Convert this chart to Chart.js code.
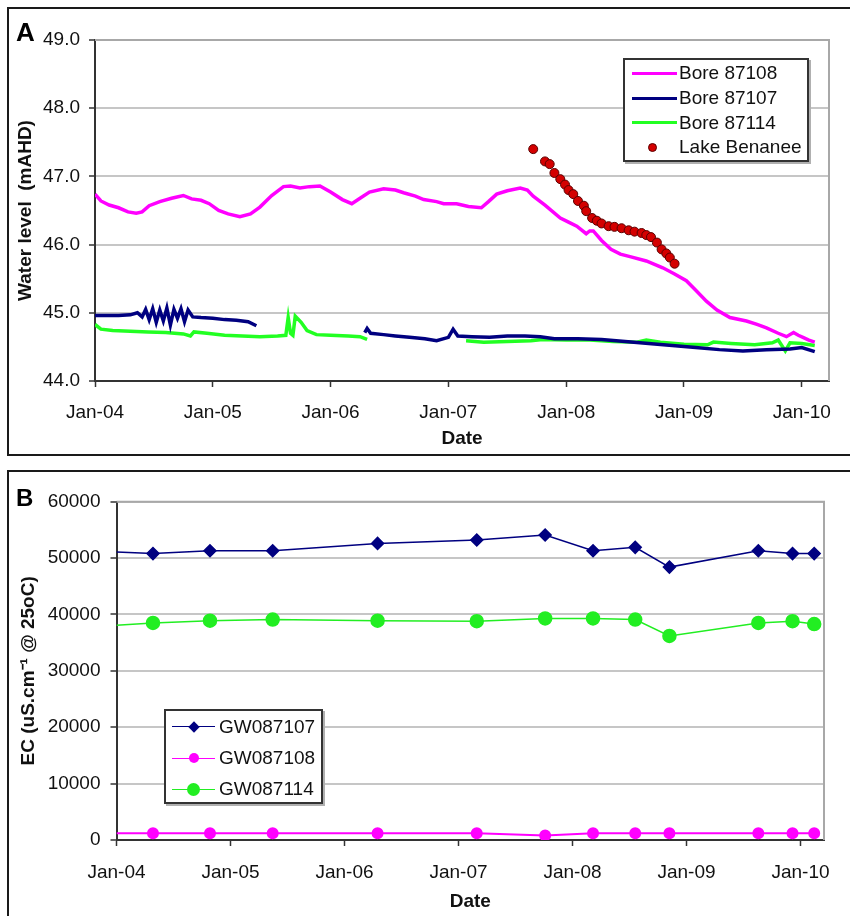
<!DOCTYPE html>
<html><head><meta charset="utf-8">
<script src="https://cdn.jsdelivr.net/npm/chart.js@4.4.1/dist/chart.umd.min.js"></script>
<style>
html,body{margin:0;padding:0;background:#fff;}
body{width:850px;height:916px;position:relative;overflow:hidden;font-family:"Liberation Sans",Arial,sans-serif;}
canvas{position:absolute;left:0;}
#cA{top:0}
#cB{top:460px}
.frame{position:absolute;box-sizing:border-box;border:2.5px solid #1a1a1a;}
.letter{position:absolute;font-weight:bold;color:#000;line-height:1;}
.legend{position:absolute;box-sizing:border-box;border:2px solid #333;background:#fff;box-shadow:2px 2px 0 #b0b0b0;}
.lt{position:absolute;font-size:19px;line-height:24px;color:#111;white-space:nowrap;}
.ls{position:absolute;}
</style></head>
<body>
<canvas id="cA" width="850" height="460"></canvas>
<canvas id="cB" width="850" height="456"></canvas>
<div class="frame" style="left:7px;top:7px;width:900px;height:449px"></div>
<div class="frame" style="left:7px;top:470px;width:900px;height:500px"></div>
<div class="letter" style="left:16px;top:19px;font-size:26px">A</div>
<div class="letter" style="left:16px;top:486px;font-size:24px">B</div>
<div id="legends"></div>
<script>
// ---------- shared axis ticks ----------
const yearTicks = [2004, 2005, 2006, 2007, 2008, 2009, 2010];
const yearTickLabels = ['Jan-04', 'Jan-05', 'Jan-06', 'Jan-07', 'Jan-08', 'Jan-09', 'Jan-10'];

// ---------- Panel A: water levels (decimal years, mAHD) ----------
const seriesNamesA = ['Bore 87108', 'Bore 87107', 'Bore 87114', 'Lake Benanee'];

const bore87108Dates = [2004.00,2004.05,2004.12,2004.20,2004.28,2004.35,2004.40,2004.46,2004.55,2004.65,2004.75,2004.82,2004.90,2004.97,2005.05,2005.13,2005.23,2005.32,2005.40,2005.50,2005.60,2005.66,2005.74,2005.82,2005.91,2006.00,2006.10,2006.18,2006.25,2006.33,2006.45,2006.55,2006.62,2006.72,2006.79,2006.90,2006.96,2007.07,2007.17,2007.28,2007.34,2007.41,2007.50,2007.61,2007.67,2007.72,2007.82,2007.95,2008.02,2008.09,2008.17,2008.20,2008.23,2008.30,2008.38,2008.46,2008.55,2008.68,2008.82,2008.92,2009.02,2009.10,2009.19,2009.28,2009.39,2009.53,2009.62,2009.70,2009.80,2009.87,2009.93,2009.97,2010.01,2010.06,2010.11];
const bore87108Levels = [46.74,46.64,46.58,46.54,46.48,46.46,46.48,46.57,46.63,46.68,46.72,46.67,46.65,46.60,46.50,46.45,46.41,46.45,46.55,46.72,46.85,46.86,46.83,46.85,46.86,46.77,46.66,46.60,46.68,46.77,46.82,46.80,46.76,46.71,46.66,46.63,46.60,46.60,46.56,46.54,46.63,46.74,46.79,46.83,46.80,46.71,46.58,46.39,46.33,46.27,46.16,46.20,46.20,46.06,45.93,45.86,45.82,45.76,45.66,45.57,45.47,45.33,45.17,45.04,44.93,44.88,44.83,44.78,44.70,44.65,44.71,44.67,44.64,44.60,44.57];

const bore87107Dates = [2004.00,2004.10,2004.20,2004.30,2004.36,2004.40,2004.43,2004.46,2004.49,2004.52,2004.55,2004.58,2004.61,2004.64,2004.67,2004.70,2004.73,2004.76,2004.79,2004.83,2004.90,2005.00,2005.10,2005.20,2005.30,2005.37,2005.80,2006.29,2006.31,2006.34,2006.45,2006.55,2006.67,2006.80,2006.90,2007.00,2007.04,2007.08,2007.20,2007.35,2007.50,2007.65,2007.78,2007.90,2008.10,2008.30,2008.50,2008.70,2008.90,2009.10,2009.30,2009.50,2009.70,2009.90,2010.00,2010.11];
const bore87107Levels = [44.96,44.96,44.96,44.97,45.00,44.94,45.05,44.90,45.06,44.86,45.04,44.88,45.07,44.82,45.05,44.92,45.06,44.87,45.04,44.94,44.93,44.92,44.90,44.89,44.87,44.81,null,44.71,44.77,44.70,44.68,44.66,44.64,44.62,44.59,44.64,44.76,44.66,44.65,44.64,44.66,44.66,44.65,44.62,44.62,44.61,44.58,44.55,44.52,44.49,44.46,44.44,44.46,44.47,44.49,44.43];

const bore87114Dates = [2004.00,2004.05,2004.15,2004.30,2004.45,2004.60,2004.75,2004.81,2004.84,2004.95,2005.10,2005.25,2005.40,2005.55,2005.62,2005.64,2005.66,2005.68,2005.70,2005.75,2005.80,2005.88,2006.00,2006.15,2006.25,2006.31,2006.70,2007.15,2007.30,2007.50,2007.70,2007.80,2008.00,2008.20,2008.40,2008.60,2008.68,2008.80,2009.00,2009.20,2009.25,2009.40,2009.60,2009.75,2009.80,2009.86,2009.90,2010.00,2010.11];
const bore87114Levels = [44.83,44.76,44.74,44.73,44.72,44.71,44.69,44.66,44.72,44.70,44.67,44.66,44.65,44.66,44.67,44.93,44.70,44.67,44.95,44.86,44.74,44.68,44.67,44.66,44.65,44.61,null,44.59,44.57,44.58,44.59,44.61,44.60,44.60,44.58,44.57,44.60,44.57,44.54,44.53,44.57,44.55,44.53,44.56,44.60,44.44,44.56,44.55,44.52];

const lakeDates = [2007.72,2007.82,2007.86,2007.90,2007.95,2007.99,2008.02,2008.06,2008.10,2008.15,2008.17,2008.22,2008.26,2008.30,2008.36,2008.41,2008.47,2008.53,2008.58,2008.64,2008.68,2008.72,2008.77,2008.81,2008.85,2008.88,2008.92];
const lakeLevels = [47.40,47.22,47.18,47.05,46.96,46.88,46.80,46.74,46.64,46.57,46.49,46.39,46.35,46.31,46.27,46.26,46.24,46.21,46.19,46.17,46.14,46.11,46.03,45.93,45.87,45.81,45.72];

// ---------- Panel B: EC (uS/cm @ 25oC) ----------
const seriesNamesB = ['GW087107', 'GW087108', 'GW087114'];
const ecDates = [2004.00,2004.32,2004.82,2005.37,2006.29,2007.16,2007.76,2008.18,2008.55,2008.85,2009.63,2009.93,2010.12];
const gw087107EC = [51100,50800,51300,51300,52600,53200,54100,51300,51900,48400,51300,50800,50800];
const gw087108EC = [1200,1200,1200,1200,1200,1200,800,1200,1200,1200,1200,1200,1200];
const gw087114EC = [38100,38500,38900,39100,38900,38800,39300,39300,39100,36200,38500,38800,38300];

// ---------- helpers ----------
const FONT = '"Liberation Sans", Arial, sans-serif';
Chart.defaults.font.family = FONT;
Chart.defaults.color = '#111';
const toXY = (xs, ys) => xs.map((x, i) => ({ x: x, y: ys[i] }));

const plotFrame = {
  id: 'plotFrame',
  beforeDatasetsDraw(chart) {
    const { ctx, chartArea: a } = chart;
    ctx.save();
    ctx.strokeStyle = '#a8a8a8';
    ctx.lineWidth = 2;
    ctx.beginPath();
    ctx.moveTo(a.left, a.top);
    ctx.lineTo(a.right, a.top);
    ctx.lineTo(a.right, a.bottom);
    ctx.stroke();
    ctx.restore();
  }
};

function xScale(max, tickPad, titlePadBottom, height) {
  return {
    type: 'linear', min: 2004, max: max, offset: false,
    afterBuildTicks: s => { s.ticks = yearTicks.map(v => ({ value: v })); },
    afterFit: s => { s.height = height; },
    ticks: { autoSkip: false, maxRotation: 0, padding: tickPad, font: { size: 19 }, color: '#111',
      callback: v => { const i = yearTicks.indexOf(v); return i >= 0 ? yearTickLabels[i] : ''; } },
    grid: { drawOnChartArea: false, drawTicks: true, tickLength: 6, tickColor: '#333', tickWidth: 1.5 },
    border: { display: true, color: '#333', width: 2 },
    title: { display: true, text: 'Date', font: { size: 19, weight: 'bold' }, color: '#111', padding: { top: 0, bottom: titlePadBottom } }
  };
}

function yScale(min, max, step, cb, width, tickPad, title, titlePadTop) {
  return {
    type: 'linear', min: min, max: max,
    afterFit: s => { s.width = width; },
    ticks: { stepSize: step, padding: tickPad, font: { size: 19 }, color: '#111', callback: cb },
    grid: { color: '#c6c6c6', lineWidth: 2, drawTicks: true, tickLength: 6, tickColor: '#333', tickWidth: 1.5 },
    border: { display: true, color: '#333', width: 2 },
    title: { display: true, text: title, font: { size: 19, weight: 'bold' }, color: '#111', padding: { top: titlePadTop, bottom: 0 } }
  };
}

// ---------- Chart A ----------
new Chart(document.getElementById('cA'), {
  type: 'line',
  data: {
    datasets: [
      { label: seriesNamesA[0], data: toXY(bore87108Dates, bore87108Levels), borderColor: '#ff00ff', borderWidth: 3.5, pointRadius: 0, tension: 0 },
      { label: seriesNamesA[1], data: toXY(bore87107Dates, bore87107Levels), borderColor: '#000080', borderWidth: 3.5, pointRadius: 0, tension: 0, spanGaps: false },
      { label: seriesNamesA[2], data: toXY(bore87114Dates, bore87114Levels), borderColor: '#22ff22', borderWidth: 3.5, pointRadius: 0, tension: 0, spanGaps: false },
      { label: seriesNamesA[3], data: toXY(lakeDates, lakeLevels), showLine: false, pointRadius: 4.5, pointBackgroundColor: '#d40000', pointBorderColor: '#5a0000', pointBorderWidth: 1 }
    ]
  },
  options: {
    responsive: false, animation: false, devicePixelRatio: 1,
    layout: { autoPadding: false, padding: { left: 8, top: 40, right: 21, bottom: 0 } },
    plugins: { legend: { display: false }, tooltip: { enabled: false } },
    scales: {
      x: xScale(2010.231, 14, 9.6, 79),
      y: yScale(44, 49, 1, v => v.toFixed(1), 87, 9, 'Water level  (mAHD)', 6.6)
    }
  },
  plugins: [plotFrame]
});

// ---------- Chart B ----------
const hideFirst = r => ctx => (ctx.dataIndex === 0 ? 0 : r);
new Chart(document.getElementById('cB'), {
  type: 'line',
  data: {
    datasets: [
      { label: seriesNamesB[0], data: toXY(ecDates, gw087107EC), borderColor: '#000080', borderWidth: 1.5, pointStyle: 'rectRot', pointRadius: hideFirst(6), pointBackgroundColor: '#000080', pointBorderColor: '#000080', tension: 0 },
      { label: seriesNamesB[1], data: toXY(ecDates, gw087108EC), borderColor: '#ff00ff', borderWidth: 2, pointStyle: 'circle', pointRadius: hideFirst(5), pointBackgroundColor: '#ff00ff', pointBorderColor: '#ff00ff', tension: 0 },
      { label: seriesNamesB[2], data: toXY(ecDates, gw087114EC), borderColor: '#22ee22', borderWidth: 1.5, pointStyle: 'circle', pointRadius: hideFirst(6.5), pointBackgroundColor: '#22ee22', pointBorderColor: '#22ee22', tension: 0 }
    ]
  },
  options: {
    responsive: false, animation: false, devicePixelRatio: 1,
    layout: { autoPadding: false, padding: { left: 8, top: 41.7, right: 26, bottom: 0 } },
    plugins: { legend: { display: false }, tooltip: { enabled: false } },
    scales: {
      x: xScale(2010.206, 15, 2.6, 76),
      y: yScale(0, 60000, 10000, v => String(v), 108.5, 10, 'EC (uS.cm\u207B\u00B9 @ 25oC)', 9.1)
    }
  },
  plugins: [plotFrame]
});

// ---------- HTML legends ----------
const L = document.getElementById('legends');
function el(cls, style, text) {
  const d = document.createElement('div');
  d.className = cls; d.style.cssText = style;
  if (text !== undefined) d.textContent = text;
  L.appendChild(d); return d;
}
// Legend A
el('legend', 'left:623px;top:58px;width:186px;height:104px;');
const legARows = [73.3, 98.3, 122.7, 147.3];
const legAColors = ['#ff00ff', '#000080', '#22ff22'];
seriesNamesA.forEach((name, i) => {
  const cy = legARows[i];
  if (i < 3) {
    el('ls', `left:632px;top:${cy - 1.5}px;width:45px;height:3px;background:${legAColors[i]};`);
  } else {
    el('ls', `left:${652.7 - 4.5}px;top:${cy - 4.5}px;width:9px;height:9px;box-sizing:border-box;border-radius:50%;background:#d40000;border:1px solid #5a0000;`);
  }
  el('lt', `left:679px;top:${cy - 12}px;`, name);
});
// Legend B
el('legend', 'left:164px;top:709px;width:159px;height:95px;');
const legBRows = [726.7, 758.3, 789.3];
const legBColors = ['#000080', '#ff00ff', '#22ee22'];
seriesNamesB.forEach((name, i) => {
  const cy = legBRows[i];
  el('ls', `left:172px;top:${cy - 0.75}px;width:43px;height:1.5px;background:${legBColors[i]};`);
  if (i === 0) {
    el('ls', `left:${193.5 - 4}px;top:${cy - 4}px;width:8px;height:8px;background:#000080;transform:rotate(45deg);`);
  } else {
    const r = i === 1 ? 5 : 6.5;
    el('ls', `left:${193.5 - r}px;top:${cy - r}px;width:${2 * r}px;height:${2 * r}px;border-radius:50%;background:${legBColors[i]};`);
  }
  el('lt', `left:219px;top:${cy - 12}px;`, name);
});
</script>
</body></html>
